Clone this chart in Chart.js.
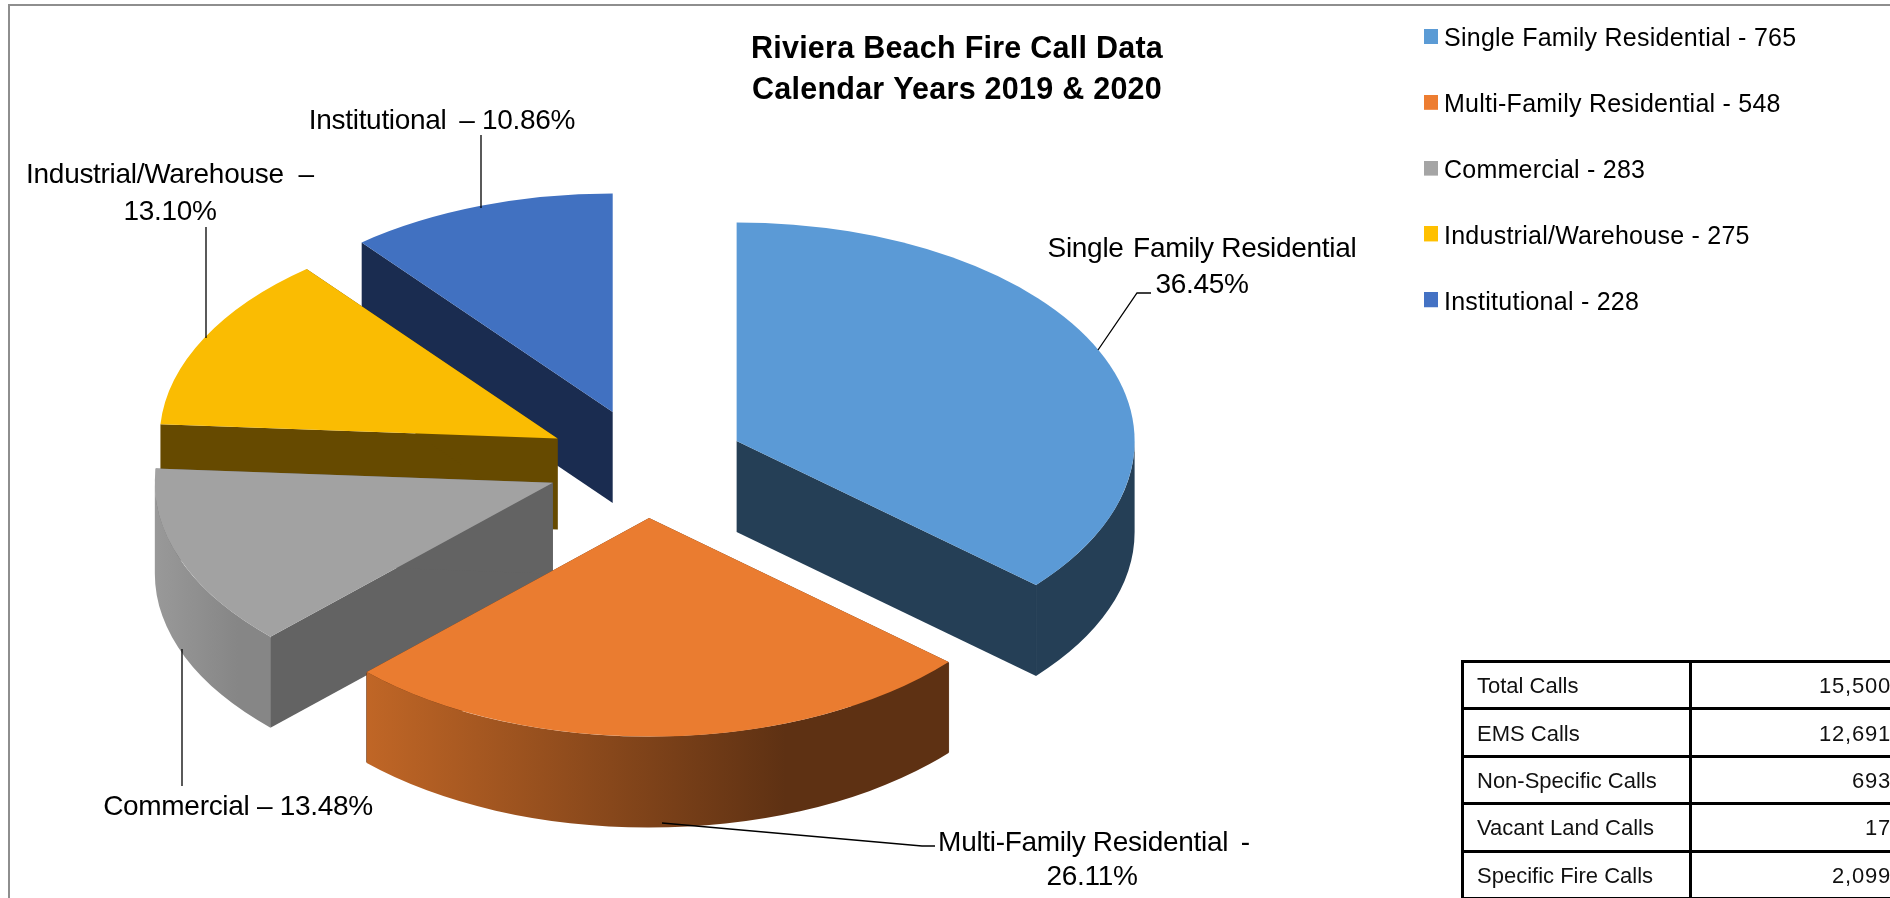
<!DOCTYPE html>
<html>
<head>
<meta charset="utf-8">
<title>Riviera Beach Fire Call Data</title>
<script src="https://cdn.jsdelivr.net/npm/chart.js@4/dist/chart.umd.min.js"></script>
<style>
    html, body { margin: 0; width: 1890px; height: 898px; overflow: hidden; background: #fff; }
    #pieChart { position: absolute; left: 0; top: 0; }
    #frame { position: absolute; left: 8px; top: 4px; width: 1900px; height: 1000px; border: 2px solid #8e8e8e; }
    #callTable { position: absolute; left: 1461px; top: 660px; width: 440px; border-collapse: collapse; table-layout: fixed;
        font: 22px "Liberation Sans", sans-serif; color: #111; }
    #callTable td { border: 3px solid #000; height: 47.4px; padding: 2px 7px 0 13px; box-sizing: border-box; white-space: nowrap; }
    #callTable td:first-child { width: 228px; }
    #callTable td:last-child { text-align: right; letter-spacing: 0.8px; }
</style>
</head>
<body>
<div id="frame"></div>
<canvas id="pieChart" width="1890" height="898"></canvas>
<table id="callTable"></table>
<script>
const categories = ['Single Family Residential', 'Multi-Family Residential', 'Commercial', 'Industrial/Warehouse', 'Institutional'];
const callCounts = [765, 548, 283, 275, 228];

const topColors = ['#5B9AD6', '#EA7C30', '#A2A2A2', '#FABC02', '#4171C1'];
const legendColors = ['#5B9BD5', '#ED7D31', '#A5A5A5', '#FFC000', '#4472C4'];
const edgeColors = ['#253F56', '#5E3113', '#636363', '#664A00', '#1A2C50'];
const rimLeftColors = ['#253F56', '#C06626', '#999999', '#664A00', '#1A2C50'];
const rimRightColors = ['#253F56', '#5E3113', '#868686', '#664A00', '#1A2C50'];

const tableLabels = ['Total Calls', 'EMS Calls', 'Non-Specific Calls', 'Vacant Land Calls', 'Specific Fire Calls'];
const tableValues = ['15,500', '12,691', '693', '17', '2,099'];

const callouts = [
    { lines: ['Single\u200A Family Residential', '36.45%'], x: [1202, 1202], y: [249, 285], leader: [[1098, 350], [1137, 293], [1151, 293]] },
    { lines: ['Multi-Family Residential \u2009-', '26.11%'], x: [1094, 1092], y: [843, 877], leader: [[662, 823], [922, 846], [935, 846]] },
    { lines: ['Commercial – 13.48%'], x: [238], y: [807], leader: [[182, 649], [182, 786]] },
    { lines: ['Industrial/Warehouse  –', '13.10%'], x: [170, 170], y: [175, 212], leader: [[206, 227], [206, 338]] },
    { lines: ['Institutional \u2009– 10.86%'], x: [442], y: [121], leader: [[481, 135], [481, 208]] }
];

// tilted pie geometry, in canvas pixels
const pieX = 646, pieY = 463.5;
const radiusX = 398, radiusY = 218.5;
const explode = 99.5, depth = 91;
const drawOrder = [4, 3, 2, 1, 0];

const labelFont = '28px "Liberation Sans", sans-serif';

// legend marker; the spare transparent rows lift it level with the text
const swatch = (color) => {
    const c = document.createElement('canvas');
    c.width = 14;
    c.height = 21;
    const g = c.getContext('2d');
    g.fillStyle = color;
    g.fillRect(0, 0, 14, 15);
    return c;
};

const drawSlice = (chart, ctx, arc, i) => {
    const start = arc.startAngle, end = arc.endAngle;
    const mid = (start + end) / 2;
    const cx = pieX + Math.cos(mid) * explode;
    const cy = pieY + Math.sin(mid) * explode * radiusY / radiusX;

    // straight cut walls; on the front half a stroke closes the seam against the rim
    ctx.fillStyle = edgeColors[i];
    ctx.strokeStyle = edgeColors[i];
    ctx.lineWidth = 0.8;
    [start, end].forEach((a) => {
        const ex = cx + Math.cos(a) * radiusX, ey = cy + Math.sin(a) * radiusY;
        ctx.beginPath();
        ctx.moveTo(cx, cy);
        ctx.lineTo(ex, ey);
        ctx.lineTo(ex, ey + depth);
        ctx.lineTo(cx, cy + depth);
        ctx.closePath();
        ctx.fill();
        if (Math.sin(a) > 0) {
            ctx.beginPath();
            ctx.moveTo(ex, ey + 1);
            ctx.lineTo(ex, ey + depth - 1);
            ctx.stroke();
        }
    });

    // curved rim, front half only
    const lo = Math.max(start, 0), hi = Math.min(end, Math.PI);
    if (hi > lo) {
        const right = cx + Math.cos(lo) * radiusX, left = cx + Math.cos(hi) * radiusX;
        const grad = ctx.createLinearGradient(left, 0, right, 0);
        grad.addColorStop(0, rimLeftColors[i]);
        grad.addColorStop(0.72, rimRightColors[i]);
        grad.addColorStop(1, rimRightColors[i]);
        ctx.fillStyle = grad;
        ctx.beginPath();
        ctx.ellipse(cx, cy, radiusX, radiusY, 0, lo, hi);
        ctx.ellipse(cx, cy + depth, radiusX, radiusY, 0, hi, lo, true);
        ctx.closePath();
        ctx.fill();
    }

    // top face is the library's own arc, squashed into the tilted plane
    ctx.save();
    ctx.translate(cx, cy);
    ctx.scale(radiusX / arc.outerRadius, radiusY / arc.outerRadius);
    ctx.translate(-arc.x, -arc.y);
    arc.draw(ctx, chart.chartArea);
    ctx.restore();
};

const tiltedPie = {
    id: 'tiltedPie',
    afterLayout(chart) {
        const legend = chart.legend;
        const pad = legend.options.labels.padding;
        legend.left = 1430.5 - pad;
        legend.top = 27 - pad;
    },
    beforeDraw(chart) {
        // title and legend text run slightly wider than the font's default
        chart.ctx.letterSpacing = '0.25px';
    },
    beforeDatasetsDraw(chart) {
        const ctx = chart.ctx;
        const arcs = chart.getDatasetMeta(0).data;
        ctx.save();
        drawOrder.forEach((i) => drawSlice(chart, ctx, arcs[i], i));
        ctx.restore();
        return false;
    },
    afterDraw(chart) {
        const ctx = chart.ctx;
        ctx.save();
        ctx.letterSpacing = '-0.3px';
        ctx.strokeStyle = '#000';
        ctx.lineWidth = 1.3;
        ctx.fillStyle = '#000';
        ctx.font = labelFont;
        ctx.textAlign = 'center';
        ctx.textBaseline = 'middle';
        callouts.forEach((c) => {
            ctx.beginPath();
            c.leader.forEach((p, n) => (n ? ctx.lineTo(p[0], p[1]) : ctx.moveTo(p[0], p[1])));
            ctx.stroke();
            c.lines.forEach((line, n) => ctx.fillText(line, c.x[n], c.y[n]));
        });
        ctx.restore();
    }
};

new Chart(document.getElementById('pieChart'), {
    type: 'pie',
    data: {
        labels: categories,
        datasets: [{
            data: callCounts,
            backgroundColor: topColors,
            borderWidth: 0
        }]
    },
    options: {
        responsive: false,
        animation: false,
        layout: {
            padding: { left: 24 }
        },
        plugins: {
            tooltip: { enabled: false },
            title: {
                display: true,
                text: ['Riviera Beach Fire Call Data', 'Calendar Years 2019 & 2020'],
                color: '#000',
                font: { family: '"Liberation Sans", sans-serif', size: 30.5, weight: 'bold', lineHeight: 1.34 },
                padding: { top: 29.5, bottom: 0 }
            },
            legend: {
                position: 'right',
                align: 'start',
                labels: {
                    color: '#000',
                    font: { family: '"Liberation Sans", sans-serif', size: 25 },
                    padding: 40.8,
                    usePointStyle: true,
                    pointStyleWidth: 1,
                    generateLabels: () => categories.map((name, i) => ({
                        text: name + ' - ' + callCounts[i],
                        fillStyle: legendColors[i],
                        strokeStyle: legendColors[i],
                        lineWidth: 0,
                        pointStyle: swatch(legendColors[i]),
                        hidden: false,
                        index: i
                    }))
                }
            }
        }
    },
    plugins: [tiltedPie]
});

const table = document.getElementById('callTable');
tableLabels.forEach((label, i) => {
    const row = table.insertRow();
    row.insertCell().textContent = label;
    row.insertCell().textContent = tableValues[i];
});
</script>
</body>
</html>
